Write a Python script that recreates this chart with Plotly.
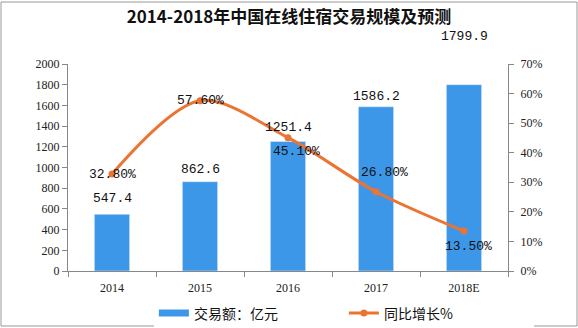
import plotly.graph_objects as go

years = ["2014", "2015", "2016", "2017", "2018E"]
volume = [547.4, 862.6, 1251.4, 1586.2, 1799.9]
growth = [32.8, 57.6, 45.1, 26.8, 13.5]
growth_labels = ["32.80%", "57.60%", "45.10%", "26.80%", "13.50%"]
vol_labels = ["547.4", "862.6", "1251.4", "1586.2", "1799.9"]
left_ticks = [0, 200, 400, 600, 800, 1000, 1200, 1400, 1600, 1800, 2000]
right_ticks = [0, 10, 20, 30, 40, 50, 60, 70]

num_font = dict(family="Liberation Mono, DejaVu Sans Mono, monospace", size=13, color="#111")
tick_font = dict(family="Liberation Serif, DejaVu Serif, serif", size=12, color="#222")
BLUE = "#3d97e8"
ORANGE = "#ec7432"

fig = go.Figure()
fig.add_trace(go.Bar(
    x=years, y=volume, name="交易额：亿元",
    marker=dict(color=BLUE), yaxis="y", showlegend=False,
))
# legend-only entry to get a wide bar swatch
fig.add_trace(go.Scatter(
    x=[years[0]], y=[None], name="交易额：亿元", mode="lines",
    line=dict(color=BLUE, width=7), yaxis="y", showlegend=True,
))
fig.add_trace(go.Scatter(
    x=years, y=growth, name="同比增长%", yaxis="y2",
    mode="lines+markers",
    line=dict(color=ORANGE, width=3, shape="spline", smoothing=0.9),
    marker=dict(color=ORANGE, size=7),
))

# bar value labels (x given as category index)
bar_shift = [16, 12, 14, 10, 48]
for i, (v, t, s) in enumerate(zip(volume, vol_labels, bar_shift)):
    fig.add_annotation(x=i, y=v, xref="x", yref="y", text=t, showarrow=False,
                       yshift=s, font=num_font)
# growth labels
g_shift = [0, 0, -14, 19, -15]
g_xshift = [0, 0, 8, 8, 4]
for i, (v, t, s, xs) in enumerate(zip(growth, growth_labels, g_shift, g_xshift)):
    fig.add_annotation(x=i, y=v, xref="x", yref="y2", text=t, showarrow=False,
                       yshift=s, xshift=xs, font=num_font)

fig.update_layout(
    width=578, height=328,
    margin=dict(l=68, r=70, t=64, b=57, autoexpand=False),
    paper_bgcolor="white", plot_bgcolor="white",
    bargap=0.6,
    title=dict(text="<b>2014-2018年中国在线住宿交易规模及预测</b>",
               x=0.5, xanchor="center", y=0.948, yanchor="middle",
               font=dict(family="Noto Sans CJK SC", size=17, color="#111")),
    xaxis=dict(
        type="category", range=[-0.5, 4.5], categoryarray=years,
        showline=True, linecolor="#888", linewidth=1,
        ticks="outside", tickson="boundaries", ticklen=5, tickcolor="#888",
        tickfont=tick_font, showgrid=False, tickangle=0, automargin=False,
        ticklabelstandoff=6,
    ),
    yaxis=dict(
        range=[0, 2000], tickvals=left_ticks,
        showline=True, linecolor="#888", linewidth=1,
        ticks="outside", ticklen=5, tickcolor="#888",
        tickfont=tick_font, showgrid=False, zeroline=False, automargin=False,
    ),
    yaxis2=dict(
        range=[0, 70], tickvals=right_ticks,
        ticktext=[f"{v}%" for v in right_ticks],
        overlaying="y", side="right",
        showline=True, linecolor="#888", linewidth=1,
        ticks="outside", ticklen=5, tickcolor="#888",
        tickfont=tick_font, showgrid=False, zeroline=False, automargin=False,
        ticklabelstandoff=4,
    ),
    legend=dict(orientation="h", x=0.627, xanchor="center", y=-0.205, yanchor="middle",
                font=dict(family="Noto Sans CJK SC", size=14, color="#111"),
                itemwidth=30, tracegroupgap=0,
                entrywidth=145, entrywidthmode="pixels"),
    showlegend=True,
)
fig.add_shape(type="rect", xref="paper", yref="paper",
              x0=-67/440, x1=1 + 69/440, y0=-55/207, y1=1 + 62/207,
              line=dict(color="#999", width=1))

fig.write_html("out.html")
